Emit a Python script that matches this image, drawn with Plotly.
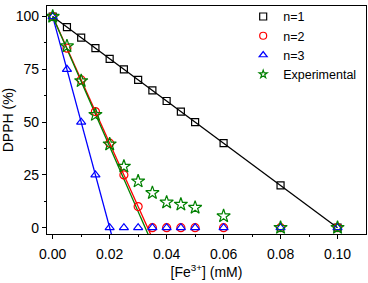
import plotly.graph_objects as go

x_all = [0, 0.005, 0.01, 0.015, 0.02, 0.025, 0.03, 0.035, 0.04, 0.045, 0.05, 0.06, 0.08, 0.10]
n1_y = [100, 95, 90, 85, 80, 75, 70, 65, 60, 55, 50, 40, 20, 0]
n2_y = [100, 85, 70, 55, 40, 25, 10, 0, 0, 0, 0, 0, 0, 0]
n3_y = [100, 75, 50, 25, 0, 0, 0, 0, 0, 0, 0, 0, 0, 0]
exp_y = [100, 86, 69.5, 53.5, 39.5, 29, 22, 16.5, 12, 11, 9.5, 5.5, 0, 0]

# model lines (linear decay to zero, extended to axis bottom)
n2_line_x = [0, 0.035]
n2_line_y = [100, -5]
n3_line_x = [0, 0.021]
n3_line_y = [100, -5]
exp_line_x = [0, 0.034]
exp_line_y = [100, -4.7]

series_names = ["n=1", "n=2", "n=3", "Experimental"]
series_colors = ["black", "red", "blue", "green"]
series_symbols = ["square-open", "circle-open", "triangle-up-open", "star-open"]
series_sizes = [7, 8, 8, 10]
legend_sizes = [7, 7, 7, 6]
series_y = [n1_y, n2_y, n3_y, exp_y]

font = "Liberation Sans, Arial, sans-serif"
fig = go.Figure()

fig.add_trace(go.Scatter(x=x_all, y=n1_y, mode="lines", line=dict(color="black", width=1.3), showlegend=False))
fig.add_trace(go.Scatter(x=n2_line_x, y=n2_line_y, mode="lines", line=dict(color="red", width=1.3), showlegend=False))
fig.add_trace(go.Scatter(x=n3_line_x, y=n3_line_y, mode="lines", line=dict(color="blue", width=1.3), showlegend=False))
fig.add_trace(go.Scatter(x=exp_line_x, y=exp_line_y, mode="lines", line=dict(color="green", width=1.3), showlegend=False))

for name, col, sym, sz, ys in zip(series_names, series_colors, series_symbols, series_sizes, series_y):
    fig.add_trace(go.Scatter(x=x_all, y=ys, mode="markers", name=name, showlegend=False,
                             marker=dict(symbol=sym, size=sz, color=col, line=dict(width=1.2))))
# legend-only entries with small symbols
for name, col, sym, sz in zip(series_names, series_colors, series_symbols, legend_sizes):
    fig.add_trace(go.Scatter(x=[None], y=[None], mode="markers", name=name,
                             marker=dict(symbol=sym, size=sz, color=col, line=dict(width=1.2))))

fig.update_layout(
    width=368, height=283,
    margin=dict(l=47, r=2, t=2, b=49),
    paper_bgcolor="white", plot_bgcolor="white",
    font=dict(family=font, size=14, color="black"),
    legend=dict(x=0.615, y=1.018, xanchor="left", yanchor="top", bgcolor="rgba(0,0,0,0)",
                font=dict(size=12.5), tracegroupgap=0, itemwidth=30),
    xaxis=dict(range=[-0.002, 0.110], tickvals=[0, 0.02, 0.04, 0.06, 0.08, 0.10],
               ticktext=["0.00", "0.02", "0.04", "0.06", "0.08", "0.10"], automargin=False,
               ticks="outside", ticklen=4, tickwidth=1, tickcolor="black", ticklabelstandoff=3,
               minor=dict(tickvals=[0.01, 0.03, 0.05, 0.07, 0.09], ticks="outside", ticklen=2, tickcolor="black"),
               showline=True, linecolor="black", linewidth=1.3, mirror=True, showgrid=False, zeroline=False,
               title=dict(text="[Fe<sup>3+</sup>] (mM)", font=dict(size=14), standoff=5)),
    yaxis=dict(range=[-3, 105], tickvals=[0, 25, 50, 75, 100], automargin=False,
               ticks="outside", ticklen=4, tickwidth=1, tickcolor="black",
               minor=dict(tickvals=[12.5, 37.5, 62.5, 87.5], ticks="outside", ticklen=2, tickcolor="black"),
               showline=True, linecolor="black", linewidth=1.3, mirror=True, showgrid=False, zeroline=False,
               title=dict(text="DPPH (%)", font=dict(size=14), standoff=4)),
)

fig.write_html("out.html", config={"displayModeBar": False},
               post_script="document.body.style.margin='0';")
